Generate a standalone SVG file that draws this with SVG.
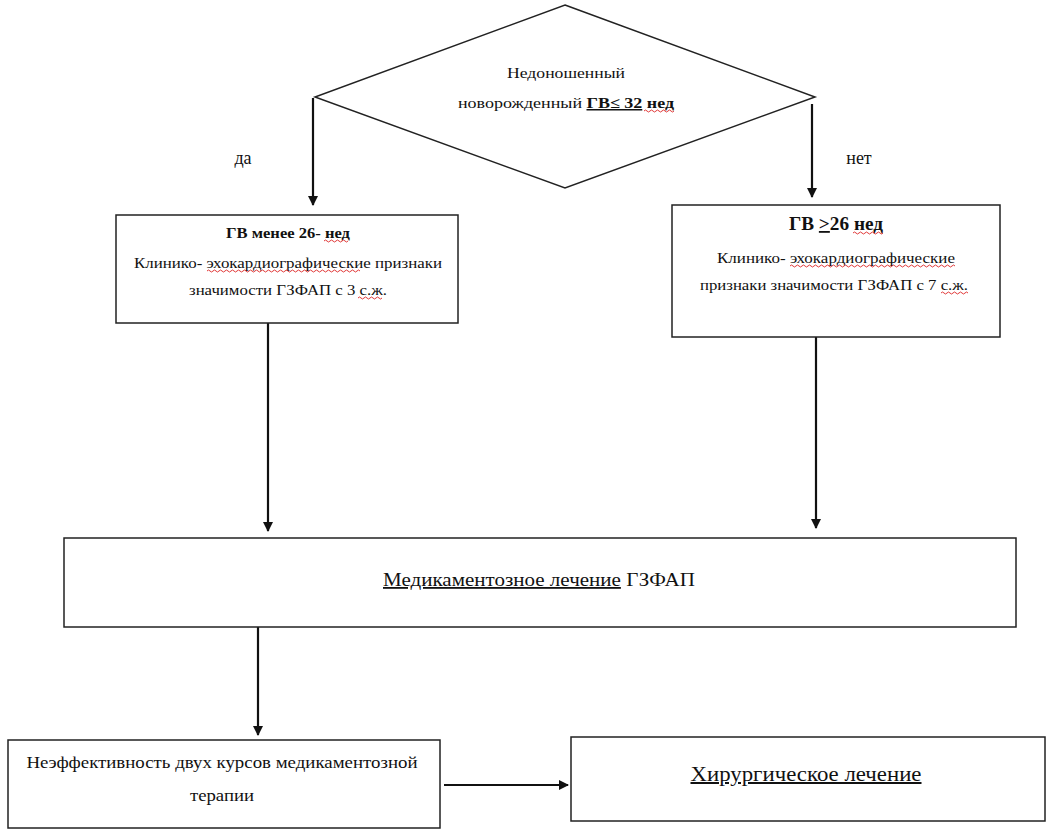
<svg xmlns="http://www.w3.org/2000/svg" width="1054" height="838" viewBox="0 0 1054 838">
<style>
text{font-family:"Liberation Serif","DejaVu Serif","Times New Roman",serif;fill:#111;text-anchor:middle}
.box{fill:#fff;stroke:#222;stroke-width:1.5}
.ln{stroke:#111;stroke-width:2.2;fill:none}
.wv{stroke:#d22;stroke-width:0.9;fill:none}
.b{font-weight:bold}
</style>
<defs>
<marker id="ah" markerWidth="10" markerHeight="10" refX="9" refY="5" orient="auto" markerUnits="userSpaceOnUse"><path d="M0,0 L10,5 L0,10 Z" fill="#111"/></marker>
</defs>
<rect width="1054" height="838" fill="#fff"/>
<g id="connectors">
<line class="ln" x1="313" y1="98" x2="313" y2="205" marker-end="url(#ah)"/>
<line class="ln" x1="812" y1="104" x2="812" y2="197" marker-end="url(#ah)"/>
<line class="ln" x1="268" y1="323" x2="268" y2="531" marker-end="url(#ah)"/>
<line class="ln" x1="816" y1="337" x2="816" y2="528" marker-end="url(#ah)"/>
<line class="ln" x1="258" y1="627" x2="258" y2="735" marker-end="url(#ah)"/>
<line class="ln" x1="444" y1="785" x2="568" y2="785" marker-end="url(#ah)"/>
<text x="243" y="164" font-size="18">да</text>
<text x="859" y="164" font-size="18">нет</text>
</g>
<g id="decision">
<polygon class="box" points="565,5 815,97 565,188 315,97"/>
<text x="566" y="78" font-size="15" textLength="118" lengthAdjust="spacingAndGlyphs">Недоношенный</text>
<text x="566" y="108" font-size="15" textLength="216" lengthAdjust="spacingAndGlyphs">новорожденный <tspan class="b" text-decoration="underline">ГВ≤ 32</tspan><tspan class="b"> нед</tspan></text>
<path class="wv" d="M644,111 q1.5,-2 3,0 t3,0 t3,0 t3,0 t3,0 t3,0 t3,0 t3,0 t3,0 t3,0"/>
</g>
<g id="box-left">
<rect class="box" x="116" y="215" width="342" height="108"/>
<text x="288" y="238" font-size="15" class="b" textLength="124" lengthAdjust="spacingAndGlyphs">ГВ менее 26- нед</text>
<path class="wv" d="M324,241 q1.5,-2 3,0 t3,0 t3,0 t3,0 t3,0 t3,0 t3,0 t3,0"/>
<text x="288" y="268" font-size="15" textLength="308" lengthAdjust="spacingAndGlyphs">Клинико- эхокардиографические признаки</text>
<path class="wv" d="M207,271 q1.5,-2 3,0 t3,0 t3,0 t3,0 t3,0 t3,0 t3,0 t3,0 t3,0 t3,0 t3,0 t3,0 t3,0 t3,0 t3,0 t3,0 t3,0 t3,0 t3,0 t3,0 t3,0 t3,0 t3,0 t3,0 t3,0 t3,0 t3,0 t3,0 t3,0 t3,0 t3,0 t3,0 t3,0 t3,0 t3,0 t3,0 t3,0 t3,0 t3,0 t3,0 t3,0 t3,0 t3,0 t3,0 t3,0 t3,0 t3,0 t3,0 t3,0 t3,0 t3,0"/>
<text x="288" y="295" font-size="15" textLength="198" lengthAdjust="spacingAndGlyphs">значимости ГЗФАП с 3 с.ж.</text>
<path class="wv" d="M358,298 q1.5,-2 3,0 t3,0 t3,0 t3,0 t3,0 t3,0 t3,0 t3,0"/>
</g>
<g id="box-right">
<rect class="box" x="672" y="205" width="328" height="132"/>
<text x="836" y="230" font-size="18" class="b" textLength="94" lengthAdjust="spacingAndGlyphs">ГВ <tspan text-decoration="underline">&gt;</tspan>26 нед</text>
<path class="wv" d="M853,233 q1.5,-2 3,0 t3,0 t3,0 t3,0 t3,0 t3,0 t3,0 t3,0 t3,0 t3,0"/>
<text x="836" y="263" font-size="15" textLength="238" lengthAdjust="spacingAndGlyphs">Клинико- эхокардиографические</text>
<path class="wv" d="M790,266 q1.5,-2 3,0 t3,0 t3,0 t3,0 t3,0 t3,0 t3,0 t3,0 t3,0 t3,0 t3,0 t3,0 t3,0 t3,0 t3,0 t3,0 t3,0 t3,0 t3,0 t3,0 t3,0 t3,0 t3,0 t3,0 t3,0 t3,0 t3,0 t3,0 t3,0 t3,0 t3,0 t3,0 t3,0 t3,0 t3,0 t3,0 t3,0 t3,0 t3,0 t3,0 t3,0 t3,0 t3,0 t3,0 t3,0 t3,0 t3,0 t3,0 t3,0 t3,0 t3,0 t3,0 t3,0 t3,0 t3,0"/>
<text x="834" y="290" font-size="15" textLength="268" lengthAdjust="spacingAndGlyphs">признаки значимости ГЗФАП с 7 с.ж.</text>
<path class="wv" d="M941,293 q1.5,-2 3,0 t3,0 t3,0 t3,0 t3,0 t3,0 t3,0 t3,0 t3,0"/>
</g>
<g id="box-medical">
<rect class="box" x="64" y="538" width="952" height="89"/>
<text x="539" y="586" font-size="18" textLength="312" lengthAdjust="spacingAndGlyphs"><tspan text-decoration="underline">Медикаментозное лечение</tspan> ГЗФАП</text>
</g>
<g id="box-ineffective">
<rect class="box" x="8" y="740" width="432" height="88"/>
<text x="222" y="768" font-size="17" textLength="391" lengthAdjust="spacingAndGlyphs">Неэффективность двух курсов медикаментозной</text>
<text x="222" y="801" font-size="17" textLength="64" lengthAdjust="spacingAndGlyphs">терапии</text>
</g>
<g id="box-surgery">
<rect class="box" x="571" y="737" width="474" height="84"/>
<text x="806" y="781" font-size="20" textLength="231" lengthAdjust="spacingAndGlyphs" text-decoration="underline">Хирургическое лечение</text>
</g>
</svg>
